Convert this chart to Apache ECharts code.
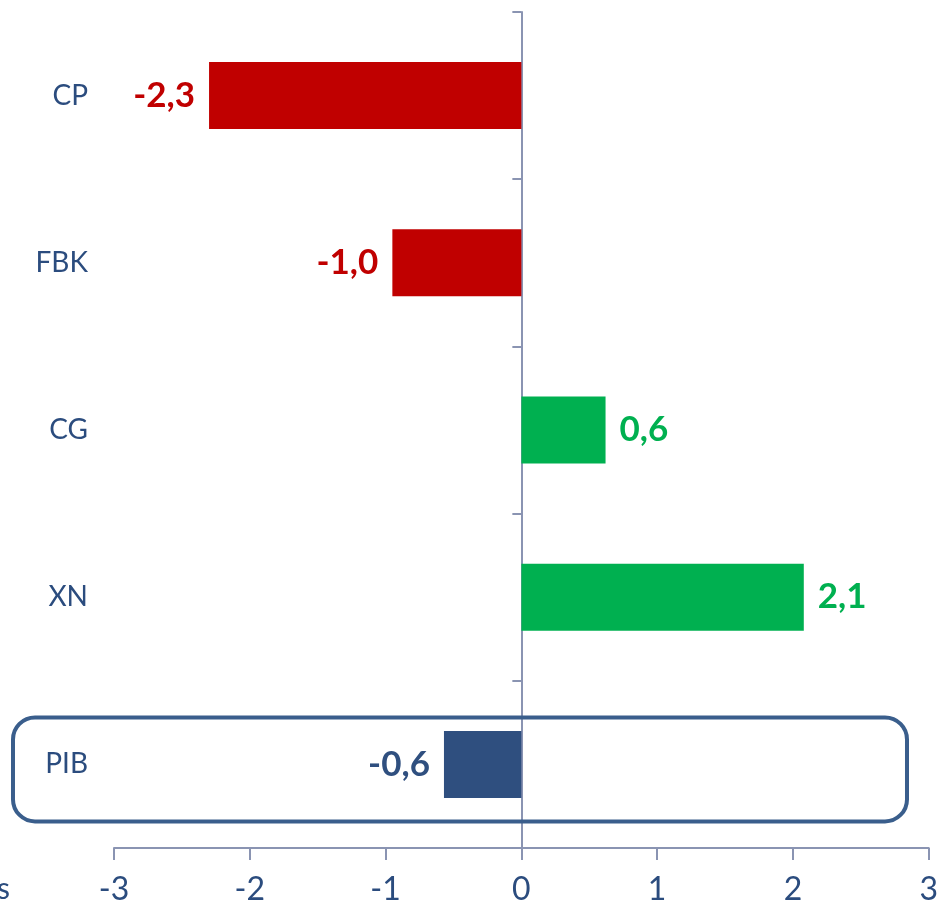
<!DOCTYPE html>
<html>
<head>
<meta charset="utf-8">
<script src="https://cdn.jsdelivr.net/npm/echarts@6/dist/echarts.min.js"></script>
<style>
  html, body { margin: 0; padding: 0; background: #fff; }
  #chart { width: 941px; height: 909px; }
</style>
</head>
<body>
<div id="chart"></div>
<script>
// categories top -> bottom (reversed for the category axis below)
const categories = ['CP', 'FBK', 'CG', 'XN', 'PIB'];
const values = [-2.3, -0.95, 0.62, 2.08, -0.57];
const valueLabels = ['-2,3', '-1,0', '0,6', '2,1', '-0,6'];
const barColors = ['#c00000', '#c00000', '#00b050', '#00b050', '#2f4f7f'];
const xTicks = ['-3', '-2', '-1', '0', '1', '2', '3'];

const textBlue = '#2b4c7e';
const axisGrey = '#8a94b2';
const font = 'Lato, "Open Sans", sans-serif';

const chart = echarts.init(document.getElementById('chart'));

// echarts draws category 0 at the bottom, so flip
const cats = categories.slice().reverse();
const barData = values.map((v, i) => ({
  value: v,
  itemStyle: { color: barColors[i] },
  label: {
    position: v < 0 ? 'left' : 'right',
    color: barColors[i],
    formatter: valueLabels[i]
  }
})).reverse();

chart.setOption({
  animation: false,
  grid: { left: 114, right: 12, top: 12, bottom: 61 },
  xAxis: {
    type: 'value',
    min: -3,
    max: 3,
    interval: 1,
    axisLine: { show: true, onZero: false, lineStyle: { color: axisGrey, width: 2 } },
    axisTick: { show: true, length: 12, lineStyle: { color: axisGrey, width: 2 } },
    splitLine: { show: false },
    axisLabel: {
      margin: 26,
      color: textBlue,
      fontSize: 32,
      fontFamily: font,
      formatter: v => xTicks[Math.round(v) + 3]
    }
  },
  yAxis: [
    {
      // labels only, at the left edge
      type: 'category',
      position: 'left',
      data: cats,
      axisLine: { show: false, onZero: false },
      axisTick: { show: false },
      axisLabel: { margin: 26, color: textBlue, fontSize: 28, fontFamily: font }
    },
    {
      // the line through zero
      type: 'category',
      position: 'left',
      data: cats,
      axisLine: { show: true, onZero: true, lineStyle: { color: axisGrey, width: 2 } },
      axisTick: { show: true, length: 9, lineStyle: { color: axisGrey, width: 2 } },
      axisLabel: { show: false }
    }
  ],
  series: [{
    type: 'bar',
    yAxisIndex: 0,
    barWidth: 67,
    data: barData,
    label: {
      show: true,
      distance: 14,
      fontSize: 35,
      fontWeight: 'bold',
      fontFamily: font
    }
  }]
});

// rounded box around the PIB row, placed from the axes
const cy = chart.convertToPixel({ yAxisIndex: 0 }, 'PIB') + 5;
const xr = chart.convertToPixel({ xAxisIndex: 0 }, 2.84);
chart.setOption({
  graphic: [
    {
      type: 'rect',
      shape: { x: 13, y: cy - 52, width: xr - 13, height: 104, r: 22 },
      style: { fill: 'none', stroke: '#3a5e8c', lineWidth: 4 },
      z: 10
    },
    {
      type: 'text',
      left: -3,
      top: 874,
      style: { text: 's', fill: textBlue, font: '30px ' + font }
    }
  ]
});
</script>
</body>
</html>
